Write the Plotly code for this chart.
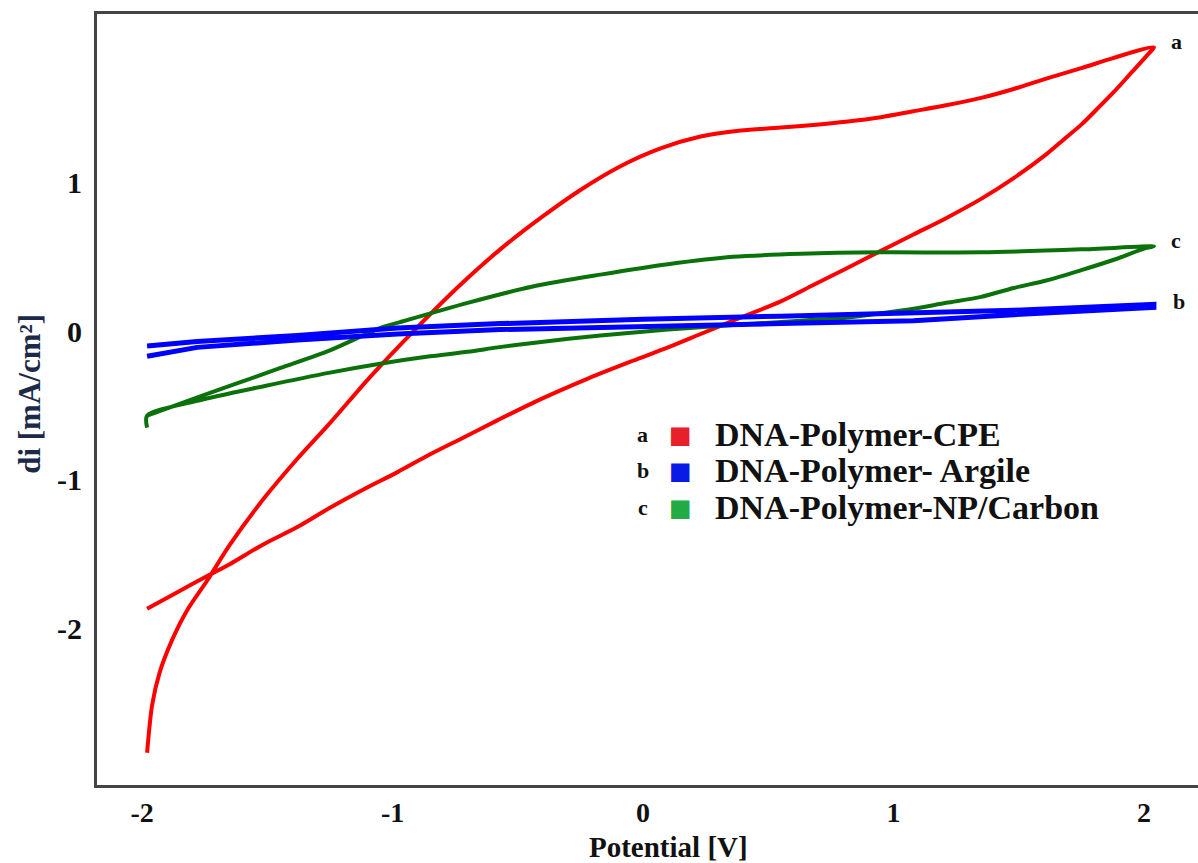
import plotly.graph_objects as go

# Cyclic voltammograms: potential (V) vs current density di (mA/cm²)

# a: DNA-Polymer-CPE — forward sweep then reverse sweep
cpe_fwd_x = [-1.98, -1.96, -1.93, -1.88, -1.82, -1.74, -1.65, -1.51, -1.38, -1.25, -1.09,
             -0.91, -0.73, -0.57, -0.41, -0.25, -0.09, 0.07, 0.23, 0.39, 0.55,
             0.81, 0.95, 1.08, 1.21, 1.35, 1.48, 1.61, 1.75, 1.88, 2.04]
cpe_fwd_y = [-2.84, -2.52, -2.30, -2.08, -1.88, -1.68, -1.44, -1.12, -0.86, -0.62, -0.31,
             0.01, 0.31, 0.55, 0.76, 0.95, 1.11, 1.23, 1.31, 1.35, 1.37,
             1.41, 1.44, 1.48, 1.52, 1.57, 1.63, 1.70, 1.77, 1.84, 1.91]
cpe_rev_x = [2.02, 1.95, 1.88, 1.81, 1.75, 1.68, 1.61, 1.48, 1.35, 1.21, 1.08, 0.95, 0.81,
             0.68, 0.55, 0.36, 0.23, 0.10, -0.04, -0.22, -0.41, -0.58, -0.72, -0.85, -0.98,
             -1.12, -1.25, -1.38, -1.52, -1.65, -1.74, -1.85, -1.98]
cpe_rev_y = [1.87, 1.74, 1.61, 1.49, 1.39, 1.29, 1.19, 1.03, 0.89, 0.76, 0.65, 0.54, 0.42,
             0.31, 0.20, 0.07, -0.02, -0.11, -0.20, -0.32, -0.46, -0.60, -0.72, -0.83, -0.95,
             -1.07, -1.19, -1.32, -1.44, -1.57, -1.65, -1.75, -1.87]

# b: DNA-Polymer-Argile
arg_fwd_x = [-1.98, -1.78, -1.38, -0.98, -0.57, 0.00, 0.55, 1.08, 1.48, 2.04]
arg_fwd_y = [-0.10, -0.07, -0.03, 0.02, 0.05, 0.08, 0.10, 0.12, 0.14, 0.18]
arg_rev_x = [2.04, 1.48, 1.08, 0.55, 0.00, -0.57, -0.98, -1.38, -1.78, -1.98]
arg_rev_y = [0.16, 0.11, 0.07, 0.05, 0.03, 0.01, -0.02, -0.06, -0.11, -0.17]

# c: DNA-Polymer-NP/Carbon
np_fwd_x = [-1.98, -1.85, -1.65, -1.45, -1.25, -1.05, -0.97, -0.70, -0.44, -0.17, 0.10,
            0.36, 0.63, 0.95, 1.35, 1.75, 2.04]
np_fwd_y = [-0.57, -0.49, -0.37, -0.25, -0.13, 0.02, 0.06, 0.19, 0.30, 0.38, 0.45,
            0.50, 0.52, 0.53, 0.53, 0.55, 0.57]
np_rev_x = [2.01, 1.88, 1.75, 1.61, 1.48, 1.35, 1.21, 1.08, 0.95, 0.81, 0.63, 0.36, 0.10,
            -0.17, -0.44, -0.58, -0.70, -0.85, -1.05, -1.25, -1.51, -1.78, -1.98, -1.98]
np_rev_y = [0.56, 0.48, 0.41, 0.34, 0.29, 0.23, 0.19, 0.15, 0.12, 0.09, 0.07, 0.04, 0.01,
            -0.03, -0.08, -0.11, -0.14, -0.17, -0.22, -0.28, -0.37, -0.47, -0.57, -0.65]

x_tick_vals = [-2, -1, 0, 1, 2]
x_tick_text = ["-2", "-1", "0", "1", "2"]
y_tick_vals = [-2, -1, 0, 1]
y_tick_text = ["-2", "-1", "0", "1"]

legend_letters = ["a", "b", "c"]
legend_names = ["DNA-Polymer-CPE", "DNA-Polymer- Argile", "DNA-Polymer-NP/Carbon"]
legend_colors = ["#e8202a", "#0a1ae6", "#22aa44"]

SERIF = "Liberation Serif, Times New Roman, serif"

fig = go.Figure()
fig.add_trace(go.Scatter(x=cpe_fwd_x + cpe_rev_x, y=cpe_fwd_y + cpe_rev_y, mode="lines",
                         line=dict(color="#ff0000", width=4, shape="spline", smoothing=0.8),
                         name="a"))
fig.add_trace(go.Scatter(x=np_fwd_x + np_rev_x, y=np_fwd_y + np_rev_y, mode="lines",
                         line=dict(color="#0b720b", width=4, shape="spline", smoothing=0.8),
                         name="c"))
fig.add_trace(go.Scatter(x=arg_fwd_x + arg_rev_x, y=arg_fwd_y + arg_rev_y, mode="lines",
                         line=dict(color="#0000ff", width=5), name="b"))

annotations = []
# curve end labels
for lab, (lx, ly) in zip(["a", "c", "b"], [(2.13, 1.95), (2.13, 0.61), (2.14, 0.20)]):
    annotations.append(dict(x=lx, y=ly, xref="x", yref="y", text=lab, showarrow=False,
                            font=dict(family=SERIF, size=22, color="#111111", weight="bold")))

# hand-built legend: letter, colour square, name
legend_rows_y = [-0.70, -0.94, -1.19]
for letter, name, col, ry in zip(legend_letters, legend_names, legend_colors, legend_rows_y):
    annotations.append(dict(x=0.0, y=ry, xref="x", yref="y", text=letter, showarrow=False,
                            font=dict(family=SERIF, size=22, color="#111111", weight="bold")))
    annotations.append(dict(x=0.15, y=ry, xref="x", yref="y", text="■", showarrow=False,
                            font=dict(family="DejaVu Sans", size=24, color=col)))
    annotations.append(dict(x=0.28, y=ry, xref="x", yref="y", text=name, showarrow=False,
                            xanchor="left",
                            font=dict(family=SERIF, size=34, color="#111111", weight="bold")))

# axis titles
annotations.append(dict(x=0.519, y=-0.081, xref="paper", yref="paper", text="Potential [V]",
                        xanchor="center", yanchor="middle", showarrow=False,
                        font=dict(family=SERIF, size=29, color="#111111", weight="bold")))
annotations.append(dict(x=-0.062, y=0.507, xref="paper", yref="paper", text="di [mA/cm²]",
                        xanchor="center", yanchor="middle", textangle=-90, showarrow=False,
                        font=dict(family=SERIF, size=31, color="#1b2a47", weight="bold")))

fig.update_layout(
    width=1198, height=863,
    margin=dict(l=97, r=0, t=14, b=78),
    paper_bgcolor="white", plot_bgcolor="white",
    showlegend=False,
    annotations=annotations,
    xaxis=dict(range=[-2.18, 2.216], tickvals=x_tick_vals, ticktext=x_tick_text,
               showgrid=False, zeroline=False, showline=True, mirror=True,
               linecolor="#444444", linewidth=3, ticks="", ticklabelstandoff=0,
               tickfont=dict(family=SERIF, size=28, color="#111111", weight="bold")),
    yaxis=dict(range=[-3.057, 2.135], tickvals=y_tick_vals, ticktext=y_tick_text,
               showgrid=False, zeroline=False, showline=True,
               linecolor="#444444", linewidth=3, ticks="", ticklabelstandoff=6,
               tickfont=dict(family=SERIF, size=30, color="#111111", weight="bold")),
)

fig.write_html("out.html")
